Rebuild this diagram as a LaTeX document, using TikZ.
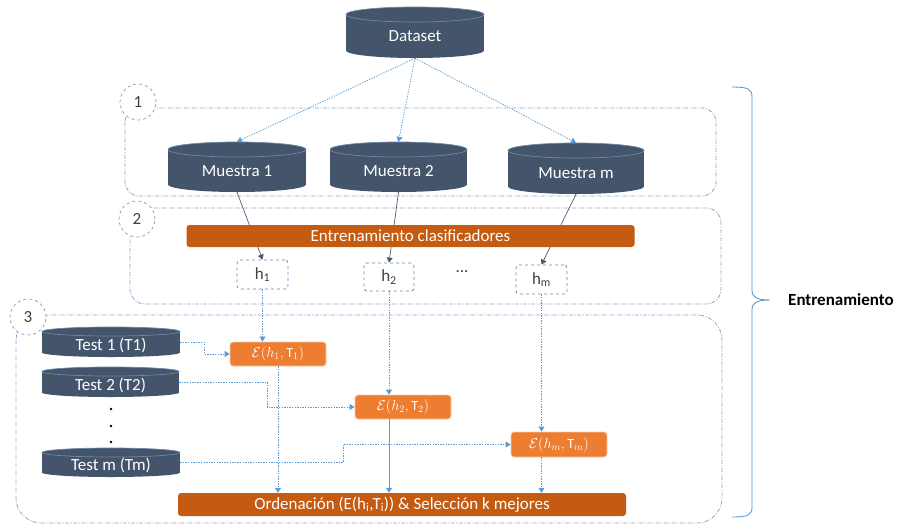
\documentclass[tikz,border=0pt]{standalone}
\usepackage{fontspec}
\setmainfont{Carlito}
\usetikzlibrary{arrows.meta}

\definecolor{slate}{HTML}{44546A}
\definecolor{slaterim}{HTML}{6D87A8}
\definecolor{linkblue}{HTML}{5B9BD5}
\definecolor{framegray}{HTML}{8EA6C6}
\definecolor{hboxline}{HTML}{6A89B5}
\definecolor{barorange}{HTML}{C55A11}
\definecolor{evalorange}{HTML}{ED7D31}
\definecolor{evaledge}{HTML}{F8CBAD}
\definecolor{trainlink}{HTML}{4E5B6E}
\definecolor{numgray}{HTML}{404040}

\tikzset{
  every node/.style={font=\fontsize{17}{20}\selectfont},
  drumbody/.style={fill=slate},
  drumrim/.style={draw=slaterim, line width=0.7pt},
  drumbox/.style={rectangle, inner sep=0pt, draw=none},
  drumlabel/.style={text=white, inner sep=0pt},
  grouprule/.style={draw=framegray, line width=0.8pt,
    dash pattern=on 4pt off 1.6pt on 1pt off 1.6pt},
  stepnum/.style={circle, draw=framegray, fill=white, line width=0.8pt,
    dashed, minimum size=36pt, inner sep=0pt, text=numgray},
  hyp/.style={rectangle, rounded corners=3pt, draw=hboxline, dashed,
    line width=0.8pt, fill=white, text=numgray, inner sep=0pt},
  bar/.style={rectangle, fill=barorange, rounded corners=3pt, text=white,
    inner sep=0pt},
  evalbox/.style={rectangle, fill=evalorange, draw=evaledge, line width=0.8pt,
    rounded corners=3pt, text=white, inner sep=0pt,
    font=\fontsize{14}{16}\selectfont},
  link/.style={draw=linkblue, line width=0.8pt, dash pattern=on 1.3pt off 1.3pt,
    -{Triangle[width=6pt,length=5pt]}},
  solidlink/.style={draw=linkblue, line width=0.8pt,
    -{Triangle[width=6pt,length=5pt]}},
  fitlink/.style={draw=trainlink, line width=0.7pt,
    -{Triangle[width=6pt,length=5pt]}},
  vdot/.style={circle, fill=black, inner sep=0pt, minimum size=2.6pt},
  braceline/.style={draw=linkblue, line width=0.9pt},
}

% database drum: name, left, top, right, bottom, lid depth, label, label shift
\newcommand\dbdrum[8]{%
  \pgfmathsetmacro\dcx{(#2+#4)/2}%
  \pgfmathsetmacro\dcy{(#3+#5)/2}%
  \pgfmathsetmacro\drx{(#4-#2)/2}%
  \pgfmathsetmacro\dmw{#4-#2}%
  \pgfmathsetmacro\dmh{#5-#3}%
  \pgfmathsetmacro\dty{#3+#6}%
  \pgfmathsetmacro\dby{#5-#6}%
  \fill[drumbody] (\dcx,\dby) ellipse[x radius=\drx pt, y radius=#6pt];
  \fill[drumbody] (#2,\dty) rectangle (#4,\dby);
  \fill[drumbody] (\dcx,\dty) ellipse[x radius=\drx pt, y radius=#6pt];
  \draw[drumrim] (\dcx,\dty) ellipse[x radius=\drx pt, y radius=#6pt];
  \node[drumbox, minimum width=\dmw pt, minimum height=\dmh pt] (#1) at (\dcx,\dcy) {};
  \node[drumlabel] (#1-text) at (\dcx,\dcy+#8) {#7};
}

\begin{document}
\begin{tikzpicture}[x=1pt, y=-1pt]
\useasboundingbox (0,0) rectangle (901,525);

% stage frames
\draw[grouprule, rounded corners=14pt] (125,108) rectangle (716,196);
\draw[grouprule, rounded corners=15pt] (130,208) rectangle (721,304);
\draw[grouprule, rounded corners=25pt] (16,315) rectangle (722,523);

\node[stepnum] (s1) at (138,102) {1};
\node[stepnum] (s2) at (137,219) {2};
\node[stepnum] (s3) at (28,317) {3};

% data sources
\dbdrum{ds}{346}{7}{484}{58}{7.5}{Dataset}{4}
\dbdrum{m1}{168}{142}{306}{192}{7.5}{Muestra 1}{4}
\dbdrum{m2}{330}{142}{467}{192}{7.5}{Muestra 2}{4}
\dbdrum{mm}{508}{143}{644}{194}{7.5}{Muestra m}{5}

\dbdrum{t1}{42}{327}{180}{357}{4.5}{Test 1 (T1)}{3}
\dbdrum{t2}{42}{367}{179}{397}{4.5}{Test 2 (T2)}{3}
\dbdrum{tm}{42}{448}{180}{477}{4.5}{Test m (Tm)}{3}

\node[vdot] (v1) at (111,409) {};
\node[vdot] (v2) at (111,426) {};
\node[vdot] (v3) at (111,442) {};

% sampling
\draw[link] (ds.south) -- (m1.north);
\draw[link] (ds.south) -- (m2.north);
\draw[link] (ds.south) -- (mm.north);

% trained hypotheses
\node[hyp, minimum width=51pt, minimum height=29pt] (h1) at (262.5,274.5) {h\textsubscript{1}};
\node[hyp, minimum width=50pt, minimum height=28pt] (h2) at (389,277) {h\textsubscript{2}};
\node[hyp, minimum width=51pt, minimum height=29pt] (hm) at (541.5,279.5) {h\textsubscript{m}};
\node[text=numgray, inner sep=0pt] (hdots) at (462,272) {...};

\draw[fitlink] (m1.south) -- (h1.north);
\draw[fitlink] (m2.south) -- (h2.north);
\draw[fitlink] (mm.south) -- (hm.north);

\node[bar, minimum width=448pt, minimum height=22pt] (train) at (410.5,236)
  {Entrenamiento clasificadores};

% evaluation
\node[evalbox, minimum width=96pt, minimum height=24pt] (e1) at (278,354)
  {$\mathcal{E}(h_1,\mathrm{T}_1)$};
\node[evalbox, minimum width=96pt, minimum height=24pt] (e2) at (403,407)
  {$\mathcal{E}(h_2,\mathrm{T}_2)$};
\node[evalbox, minimum width=96pt, minimum height=25pt] (em) at (559,444.5)
  {$\mathcal{E}(h_m,\mathrm{T}_m)$};

\node[bar, minimum width=448pt, minimum height=23pt] (rank) at (402,504.5)
  {Ordenación (E(h\textsubscript{i},T\textsubscript{i})) \& Selección k mejores};

\draw[link] (h1.south) -- (h1.south |- e1.north);
\draw[link] (h2.south) -- (h2.south |- e2.north);
\draw[link] (hm.south) -- (hm.south |- em.north);

\draw[link] (t1.east) -- ++(24,0) |- (e1.west);
\draw[link] (t2.east) -- ++(88,0) |- (e2.west);
\draw[link] (tm.east) -- ++(163,0) |- (em.west);

\draw[link] (e1.south) -- (e1.south |- rank.north);
\draw[solidlink] (h2.south |- e2.south) -- (h2.south |- rank.north);
\draw[link] (hm.south |- em.south) -- (hm.south |- rank.north);

% training brace
\draw[braceline] (732,87) .. controls (748,87) and (752,89) .. (752,97)
  -- (752,290) .. controls (752,297) and (756,300) .. (770,300)
  .. controls (756,300) and (752,303) .. (752,310)
  -- (752,507) .. controls (752,515) and (748,517) .. (732,517);
\node[anchor=west, inner sep=0pt, font=\fontsize{17}{20}\selectfont\bfseries] (phase) at (788,300) {Entrenamiento};

\end{tikzpicture}
\end{document}
